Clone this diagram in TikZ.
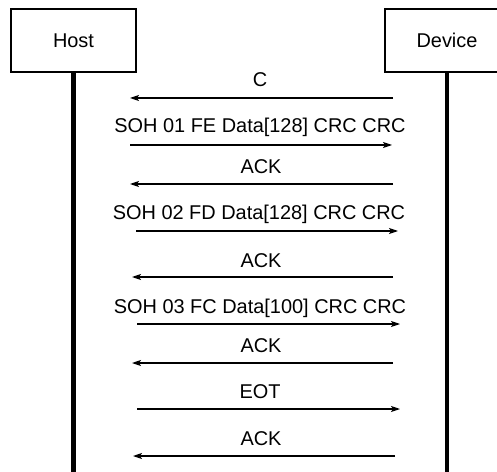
\documentclass[tikz,border=0pt]{standalone}
\usepackage{fontspec}
\setmainfont{Liberation Sans}
\usetikzlibrary{arrows.meta}
\begin{document}
\begin{tikzpicture}[x=1bp,y=-1bp,
  actor/.style={draw,line width=2bp,minimum width=125bp,minimum height=63bp,inner sep=0pt,font=\fontsize{20}{22}\selectfont},
  life/.style={line width=4.5bp},
  msg/.style={line width=1.1bp,-{Stealth[length=9bp,width=6bp,inset=2bp]}},
  lbl/.style={anchor=base,inner sep=0pt,font=\fontsize{20}{22}\selectfont}]
\useasboundingbox (0,0) rectangle (497,472);
\begin{scope}
\clip (0,0) rectangle (497,472);
\node[actor] (host) at (73.5,40.5) {Host};
\node[actor] (device) at (447,40.5) {Device};
\coordinate (hb) at (73.5,472);
\coordinate (db) at (447,472);
\draw[life] (host.south) -- (hb);
\draw[life] (device.south) -- (db);
\end{scope}
% messages
\coordinate (s1) at (393,98);  \coordinate (e1) at (130,98);
\coordinate (s2) at (130,145); \coordinate (e2) at (392,145);
\coordinate (s3) at (393,184); \coordinate (e3) at (130,184);
\coordinate (s4) at (136,231); \coordinate (e4) at (398,231);
\coordinate (s5) at (393,277); \coordinate (e5) at (132,277);
\coordinate (s6) at (137,324); \coordinate (e6) at (400,324);
\coordinate (s7) at (393,363); \coordinate (e7) at (132,363);
\coordinate (s8) at (137,409); \coordinate (e8) at (400,409);
\coordinate (s9) at (395,456); \coordinate (e9) at (133,456);
\foreach \i in {1,...,9} \draw[msg] (s\i) -- (e\i);
\node[lbl] (l1) at (260,87) {C};
\node[lbl] (l2) at (260,133) {SOH 01 FE Data[128] CRC CRC};
\node[lbl] (l3) at (261,173.5) {ACK};
\node[lbl] (l4) at (259,220) {SOH 02 FD Data[128] CRC CRC};
\node[lbl] (l5) at (261,267) {ACK};
\node[lbl] (l6) at (260,313) {SOH 03 FC Data[100] CRC CRC};
\node[lbl] (l7) at (261,352) {ACK};
\node[lbl] (l8) at (260,398) {EOT};
\node[lbl] (l9) at (261,445) {ACK};
\end{tikzpicture}
\end{document}
